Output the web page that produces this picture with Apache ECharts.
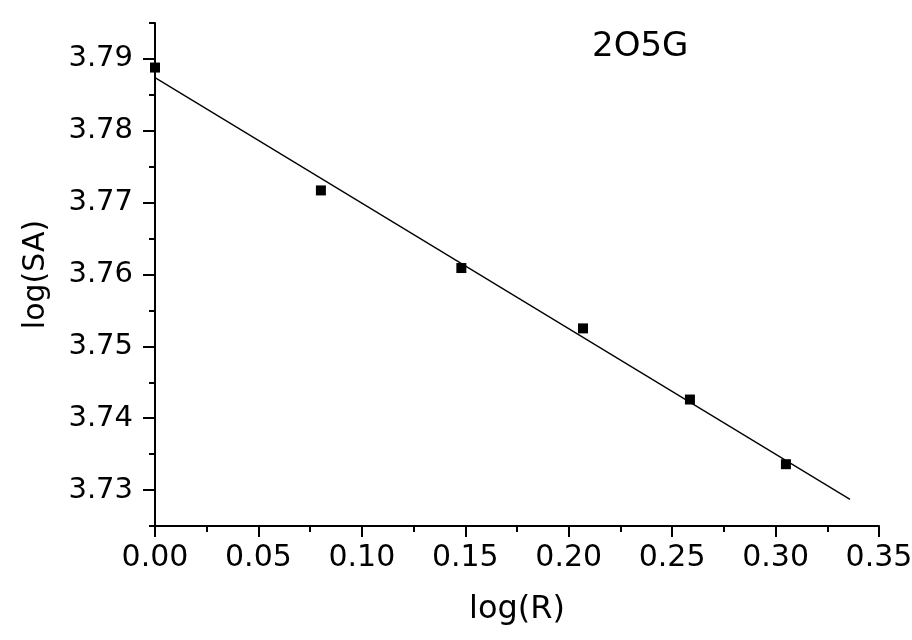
<!DOCTYPE html>
<html>
<head>
<meta charset="utf-8">
<script src="https://cdn.jsdelivr.net/npm/echarts@6/dist/echarts.min.js"></script>
<style>
  html, body { margin: 0; padding: 0; background: #fff; }
  #chart { width: 912px; height: 640px; }
</style>
</head>
<body>
<div id="chart"></div>
<script>
// 数据
var logR = [0.0, 0.0802, 0.1481, 0.2069, 0.2586, 0.3050];
var logSA = [3.7888, 3.7717, 3.7609, 3.7525, 3.7426, 3.7336];
// 拟合直线两端
var fitX = [0.0, 0.336];
var fitY = [3.7874, 3.7287];
var yTickLabels = [3.73, 3.74, 3.75, 3.76, 3.77, 3.78, 3.79];
var xTicks = [0.00, 0.05, 0.10, 0.15, 0.20, 0.25, 0.30, 0.35];

var FONT = 'DejaVu Sans';

var pts = [];
for (var i = 0; i < logR.length; i++) {
  pts.push([logR[i], logSA[i]]);
}
var fit = [];
for (var k = 0; k < fitX.length; k++) {
  fit.push([fitX[k], fitY[k]]);
}

var myChart = echarts.init(document.getElementById('chart'));
var option = {
  backgroundColor: '#fff',
  animation: false,
  graphic: [{
    type: 'text',
    left: 592,
    top: 30,
    style: { text: '2O5G', font: '34px "' + FONT + '"', fill: '#000' }
  }],
  grid: {
    left: 155, right: 33, top: 23, bottom: 114,
    outerBoundsMode: 'none'
  },
  xAxis: {
    type: 'value',
    min: xTicks[0],
    max: xTicks[xTicks.length - 1],
    interval: 0.05,
    name: 'log(R)',
    nameLocation: 'middle',
    nameGap: 68,
    nameTextStyle: { color: '#000', fontSize: 32, fontFamily: FONT },
    axisLine: { onZero: false, lineStyle: { color: '#000', width: 2 } },
    axisTick: { length: 11, lineStyle: { color: '#000', width: 2 } },
    minorTick: { show: true, splitNumber: 2, length: 6, lineStyle: { color: '#000', width: 2 } },
    axisLabel: {
      color: '#000', fontSize: 30, fontFamily: FONT, margin: 17,
      showMaxLabel: true, hideOverlap: false,
      formatter: function (v) { return v.toFixed(2); }
    },
    splitLine: { show: false }
  },
  yAxis: [{
    type: 'value',
    min: 3.725,
    max: 3.795,
    name: 'log(SA)',
    nameLocation: 'middle',
    nameGap: 104,
    nameTextStyle: { color: '#000', fontSize: 30, fontFamily: FONT },
    axisLine: { onZero: false, lineStyle: { color: '#000', width: 2 } },
    axisTick: { length: 12, customValues: yTickLabels, lineStyle: { color: '#000', width: 2 } },
    axisLabel: {
      color: '#000', fontSize: 29, fontFamily: FONT, margin: 22,
      customValues: yTickLabels,
      formatter: function (v) { return v.toFixed(2); }
    },
    splitLine: { show: false }
  }, {
    // 次刻度
    type: 'value',
    position: 'left',
    min: 3.725,
    max: 3.795,
    interval: 0.005,
    axisLine: { show: false, onZero: false },
    axisTick: { length: 6, lineStyle: { color: '#000', width: 2 } },
    axisLabel: { show: false },
    splitLine: { show: false }
  }],
  series: [{
    type: 'scatter',
    data: pts,
    symbol: 'rect',
    symbolSize: 10,
    itemStyle: { color: '#000', opacity: 1 },
    z: 3
  }, {
    type: 'line',
    data: fit,
    symbol: 'none',
    lineStyle: { color: '#000', width: 1.3 },
    z: 2
  }]
};
myChart.setOption(option);
</script>
</body>
</html>
